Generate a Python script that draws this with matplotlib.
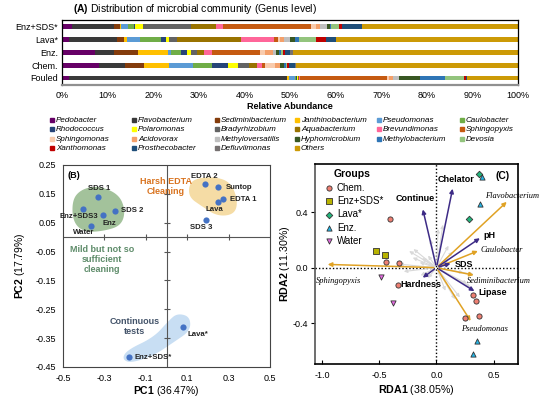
import numpy as np
import matplotlib
matplotlib.use('Agg')
import matplotlib.pyplot as plt
from matplotlib.patches import Polygon
from matplotlib.lines import Line2D

plt.rcParams['font.family'] = ['Liberation Sans', 'DejaVu Sans']
plt.rcParams['mathtext.fontset'] = 'custom'
plt.rcParams['mathtext.bf'] = 'Liberation Sans:bold'
plt.rcParams['mathtext.rm'] = 'Liberation Sans'

# ---------------- (A) genus distribution ----------------
genera = ['Pedobacter', 'Flavobacterium', 'Sediminibacterium', 'Janthinobacterium',
          'Pseudomonas', 'Caulobacter', 'Rhodococcus', 'Polaromonas', 'Bradyrhizobium',
          'Aquabacterium', 'Brevundimonas', 'Sphingopyxis', 'Sphingomonas', 'Acidovorax',
          'Methyloversatilis', 'Hyphomicrobium', 'Methylobacterium', 'Devosia',
          'Xanthomonas', 'Prosthecobacter', 'Defluviimonas', 'Others']
genus_colors = ['#660066', '#3a3a3a', '#843c0c', '#ffc000', '#5b9bd5', '#70ad47',
                '#264478', '#ffff00', '#636363', '#997300', '#ff6699', '#c55a11',
                '#f8cbad', '#f4a06a', '#bfbfbf', '#385723', '#2e75b6', '#93c47d',
                '#c00000', '#1f4e79', '#767171', '#cc9a06']
samples = ['Enz+SDS*', 'Lava*', 'Enz.', 'Chem.', 'Fouled']
enz_sds_star = [2.3, 9.2, 1.2, 0.3, 1.5, 1.3, 0.3, 1.6, 10.5, 5.6, 1.4, 19.3, 1.2, 0.9,
                1.6, 0.6, 0.1, 1.9, 0.5, 4.4, 0.0, 34.3]
lava_star = [1.5, 10.6, 1.5, 0.6, 2.9, 4.6, 1.0, 0.8, 1.7, 14.1, 7.2, 0.9, 0.4, 0.9,
             1.3, 1.1, 0.9, 3.7, 2.3, 2.1, 0.0, 39.9]
enz = [7.2, 4.3, 5.2, 6.5, 0.7, 2.3, 1.3, 0.7, 1.3, 1.6, 1.7, 10.6, 1.1, 1.7,
       0.7, 0.6, 0.5, 0.4, 0.5, 1.1, 0.7, 49.3]
chem = [8.1, 5.7, 4.2, 5.5, 5.2, 4.3, 3.3, 2.2, 2.5, 1.7, 1.1, 0.7, 2.2, 1.0,
        0.2, 0.8, 0.4, 0.3, 0.4, 1.4, 0.2, 48.6]
fouled = [1.5, 47.8, 0.0, 0.5, 1.2, 0.3, 0.2, 0.2, 0.1, 0.1, 0.3, 19.0, 0.6, 0.7,
          1.3, 4.7, 5.5, 4.2, 0.5, 0.1, 0.1, 11.1]

# ---------------- (B) PCA ----------------
pca_labels = ['SDS 1', 'Enz+SDS3', 'Enz', 'SDS 2', 'Water', 'EDTA 2', 'Suntop',
              'EDTA 1', 'Lava', 'SDS 3', 'Lava*', 'Enz+SDS*']
pc1 = [-0.33, -0.405, -0.306, -0.25, -0.363, 0.187, 0.247, 0.271, 0.25, 0.192, 0.082, -0.179]
pc2 = [0.139, 0.096, 0.075, 0.091, 0.037, 0.183, 0.173, 0.132, 0.121, 0.061, -0.31, -0.414]

# ---------------- (C) RDA ----------------
chem_x = [-0.41, -0.44, -0.33, -0.338, 0.318, 0.35, 0.373, 0.248]
chem_y = [0.35, 0.039, 0.034, -0.125, -0.2, -0.24, -0.352, -0.366]
enzsds_x = [-0.528, -0.449]
enzsds_y = [0.118, 0.092]
lava_x = [0.37, 0.283]
lava_y = [0.68, 0.352]
enzg_x = [0.397, 0.382, 0.359, 0.318]
enzg_y = [0.658, 0.46, -0.528, -0.627]
water_x = [-0.49, -0.379]
water_y = [-0.07, -0.253]

env_names = ['Chelator', 'Continue', 'pH', 'SDS', 'Hardness', 'Lipase']
env_x = [0.146, -0.125, 0.40, 0.146, -0.14, 0.353]
env_y = [0.59, 0.44, 0.224, 0.036, -0.084, -0.18]

sp_names = ['Flavobacterium', 'Caulobacter', 'Sediminibacterium', 'Pseudomonas', 'Sphingopyxis']
sp_x = [0.633, 0.385, 0.35, 0.312, -0.977]
sp_y = [0.489, 0.128, -0.058, -0.402, 0.024]

other_sp_x = [0.06, 0.015, -0.26, -0.22, -0.35, -0.23, -0.16, -0.09, -0.17, 0.29, 0.32,
              0.22, 0.175, 0.35, 0.117, 0.16, 0.26, 0.087, -0.087, -0.058, -0.146, 0.13, -0.31]
other_sp_y = [0.33, 0.30, 0.13, 0.147, 0.027, 0.08, -0.065, -0.09, 0.043, -0.125, -0.15,
              -0.23, -0.245, -0.053, 0.176, 0.128, -0.04, -0.185, 0.104, 0.224, 0.08, 0.08, -0.03]

W, H = 540, 397
fig = plt.figure(figsize=(W / 100, H / 100), dpi=100)


def rect(l, t, r, b):
    return [l / W, 1 - b / H, (r - l) / W, (b - t) / H]


# ======== panel A ========
axA = fig.add_axes(rect(62, 20, 518, 85))
table = np.array([enz_sds_star, lava_star, enz, chem, fouled])
ypos = np.arange(len(samples))
left = np.zeros(len(samples))
for j, g in enumerate(genera):
    axA.barh(ypos, table[:, j], left=left, height=0.37, color=genus_colors[j],
             linewidth=0, label=g)
    left += table[:, j]
axA.set_xlim(0, 100)
axA.set_ylim(4.55, -0.52)
axA.set_yticks(ypos)
axA.set_yticklabels(samples, fontsize=6.5)
axA.set_xticks(np.arange(0, 101, 10))
axA.set_xticklabels([f'{v}%' for v in range(0, 101, 10)], fontsize=6.5)
axA.tick_params(axis='y', length=0, pad=3)
axA.tick_params(axis='x', length=0, pad=4)
axA.set_xlabel('Relative Abundance', fontsize=6.5, fontweight='bold', labelpad=2)
for s in axA.spines.values():
    s.set_linewidth(0.9)
axA.spines['bottom'].set_color('#909090')
axA.spines['bottom'].set_linewidth(1.6)
fig.text(73 / W, 1 - 9 / H, r'$\mathbf{(A)}$ Distribution of microbial community (Genus level)',
         fontsize=7.5, va='center', ha='left')

# legend laid out row by row, six columns
leg_col_x = [51.7, 134, 217, 297, 379, 462]
leg_row_y = [120, 129.3, 139, 148.3]
for i, g in enumerate(genera):
    r, c = divmod(i, 6)
    x, y = leg_col_x[c], leg_row_y[r]
    fig.add_artist(Line2D([x / W], [1 - y / H], marker='s', ls='', markersize=2.6,
                          color=genus_colors[i], transform=fig.transFigure))
    fig.text((x + 4) / W, 1 - y / H, g, fontsize=5.8, style='italic', va='center', ha='left')

# ======== panel B ========
axB = fig.add_axes(rect(63, 165, 270, 367))
axB.set_xlim(-0.5, 0.5)
axB.set_ylim(-0.45, 0.25)


def smooth_blob(pts, n=4):
    p = np.array(pts, dtype=float)
    for _ in range(n):
        q = np.roll(p, -1, axis=0)
        p = np.stack([0.75 * p + 0.25 * q, 0.25 * p + 0.75 * q], axis=1).reshape(-1, 2)
    return p


green_blob = [(-0.335, 0.179), (-0.231, 0.150), (-0.198, 0.092), (-0.219, 0.040),
              (-0.303, 0.021), (-0.397, 0.017), (-0.452, 0.052), (-0.456, 0.127),
              (-0.416, 0.164)]
orange_blob = [(0.132, 0.202), (0.229, 0.210), (0.31, 0.191), (0.345, 0.127),
               (0.329, 0.079), (0.245, 0.072), (0.165, 0.110), (0.113, 0.136),
               (0.106, 0.173)]
blue_blob = [(0.052, -0.264), (0.113, -0.275), (0.116, -0.324), (0.035, -0.364),
             (-0.061, -0.410), (-0.174, -0.437), (-0.215, -0.422), (-0.19, -0.391),
             (-0.061, -0.347), (0.011, -0.289)]
for pts, col in [(green_blob, '#a3c29b'), (orange_blob, '#f5dca5'), (blue_blob, '#c8def3')]:
    axB.add_patch(Polygon(smooth_blob(pts), closed=True, facecolor=col, edgecolor='none', zorder=1))

axB.axhline(0, color='#555555', lw=0.8, zorder=2)
axB.axvline(0, color='#555555', lw=0.8, zorder=2)
bx_ticks = [-0.5, -0.3, -0.1, 0.1, 0.3, 0.5]
by_ticks = [0.25, 0.15, 0.05, -0.05, -0.15, -0.25, -0.35, -0.45]
axB.plot(bx_ticks[1:-1], [0] * 4, ls='', marker='|', color='#555555', ms=4, mew=0.8, zorder=2)
axB.plot([0] * 6, by_ticks[1:-1], ls='', marker='_', color='#555555', ms=4, mew=0.8, zorder=2)
axB.scatter(pc1, pc2, s=20, color='#4472c4', zorder=4, linewidths=0)

offs = {'SDS 1': (0.5, 6.2, 'center'), 'Enz+SDS3': (-3, -5, 'center'), 'Enz': (4.8, -6, 'center'),
        'SDS 2': (4.5, 0, 'left'), 'Water': (-5.5, -4.3, 'center'), 'EDTA 2': (-0.5, 6, 'center'),
        'Suntop': (5.8, 0, 'left'), 'EDTA 1': (5, -0.5, 'left'), 'Lava': (-3, -5, 'center'),
        'SDS 3': (-3.6, -5.5, 'center'), 'Lava*': (3.1, -5.8, 'left'), 'Enz+SDS*': (3.6, -0.5, 'left')}
for lab, x, y in zip(pca_labels, pc1, pc2):
    dx, dy, ha = offs[lab]
    axB.annotate(lab, (x, y), xytext=(dx, dy), textcoords='offset points', ha=ha,
                 va='center', fontsize=5.6, fontweight='bold', color='#222222', zorder=5)

axB.text(-0.004, 0.175, 'Harsh EDTA\nCleaning', ha='center', va='center', fontsize=6.5,
         fontweight='bold', color='#d9731f', linespacing=1.15)
axB.text(-0.313, -0.076, 'Mild but not so\nsufficient\ncleaning', ha='center', va='center',
         fontsize=6.5, fontweight='bold', color='#5e8c6a', linespacing=1.15)
axB.text(-0.155, -0.31, 'Continuous\ntests', ha='center', va='center', fontsize=6.5,
         fontweight='bold', color='#44546a', linespacing=1.15)
axB.text(-0.447, 0.212, '(B)', fontsize=6.5, fontweight='bold', va='center', ha='center')

axB.set_xticks(bx_ticks)
axB.set_yticks(by_ticks)
axB.set_xticklabels(['-0.5', '-0.3', '-0.1', '0.1', '0.3', '0.5'], fontsize=6.5)
axB.set_yticklabels(['0.25', '0.15', '0.05', '-0.05', '-0.15', '-0.25', '-0.35', '-0.45'], fontsize=6.5)
axB.tick_params(length=0, pad=5)
for s in axB.spines.values():
    s.set_color('#444444')
    s.set_linewidth(0.8)
axB.set_xlabel(r'$\mathbf{PC1}$ (36.47%)', fontsize=7.5, labelpad=1)
axB.set_ylabel(r'$\mathbf{PC2}$ (17.79%)', fontsize=7.5, labelpad=6)

# ======== panel C ========
axC = fig.add_axes(rect(315, 164, 518, 364))
axC.set_xlim(-1.064, 0.714)
axC.set_ylim(-0.696, 0.749)
axC.axhline(0, color='black', lw=1, ls=(0, (1, 1.5)), zorder=1)
axC.axvline(0, color='black', lw=1, ls=(0, (1, 1.5)), zorder=1)

for x, y in zip(other_sp_x, other_sp_y):
    axC.annotate('', xy=(x, y), xytext=(0, 0),
                 arrowprops=dict(arrowstyle='-|>', color='#d9d9d9', lw=0.8, mutation_scale=5),
                 zorder=2)
for x, y in zip(sp_x, sp_y):
    axC.annotate('', xy=(x, y), xytext=(0, 0),
                 arrowprops=dict(arrowstyle='-|>', color='#e0a224', lw=1.1, mutation_scale=6),
                 zorder=3)
for x, y in zip(env_x, env_y):
    axC.annotate('', xy=(x, y), xytext=(0, 0),
                 arrowprops=dict(arrowstyle='-|>', color='#3d2b86', lw=1.1, mutation_scale=6),
                 zorder=4)

env_pos = {'Chelator': (0.17, 0.64, 'center'), 'Continue': (-0.19, 0.5, 'center'),
           'pH': (0.41, 0.23, 'left'), 'SDS': (0.24, 0.02, 'center'),
           'Hardness': (-0.14, -0.125, 'center'), 'Lipase': (0.37, -0.18, 'left')}
for n in env_names:
    x, y, ha = env_pos[n]
    axC.text(x, y, n, fontsize=6.5, fontweight='bold', ha=ha, va='center', zorder=6)
sp_pos = {'Flavobacterium': (0.66, 0.52, 'center'), 'Caulobacter': (0.57, 0.127, 'center'),
          'Sediminibacterium': (0.55, -0.095, 'center'), 'Pseudomonas': (0.42, -0.44, 'center'),
          'Sphingopyxis': (-0.86, -0.095, 'center')}
for n in sp_names:
    x, y, ha = sp_pos[n]
    axC.text(x, y, n, fontsize=6, style='italic', family='Liberation Serif', ha=ha,
             va='center', zorder=6)

mk = dict(s=14, edgecolors='#333333', linewidths=0.6, zorder=5)
axC.scatter(chem_x, chem_y, marker='o', color='#ee7f72', label='Chem.', **mk)
axC.scatter(enzsds_x, enzsds_y, marker='s', color='#b8b300', label='Enz+SDS*', **mk)
axC.scatter(lava_x, lava_y, marker='D', color='#23b57c', label='Lava*', **dict(mk, s=11))
axC.scatter(enzg_x, enzg_y, marker='^', color='#25b5e6', label='Enz.', **mk)
axC.scatter(water_x, water_y, marker='v', color='#e36ae0', label='Water', **mk)
axC.legend(title='Groups', loc='upper left', bbox_to_anchor=(0.0, 1.005), frameon=False,
           fontsize=7, title_fontproperties={'weight': 'bold', 'size': 7.5},
           handletextpad=0.1, labelspacing=0.34, borderpad=0.15, handlelength=1.5)
axC.text(0.58, 0.66, '(C)', fontsize=7.5, fontweight='bold', va='center', ha='center')

axC.set_xticks([-1.0, -0.5, 0.0, 0.5])
axC.set_yticks([-0.4, 0.0, 0.4])
axC.set_xticklabels(['-1.0', '-0.5', '0.0', '0.5'], fontsize=6.5)
axC.set_yticklabels(['-0.4', '0.0', '0.4'], fontsize=6.5)
axC.tick_params(axis='x', direction='in', length=3, width=0.8, pad=5)
axC.tick_params(axis='y', direction='out', length=3, width=0.8, pad=2)
for s in axC.spines.values():
    s.set_linewidth(1.2)
axC.spines['left'].set_color('#555555')
axC.set_xlabel(r'$\mathbf{RDA1}$ (38.05%)', fontsize=7.7, labelpad=2)
axC.set_ylabel(r'$\mathbf{RDA2}$ (11.30%)', fontsize=7.7, labelpad=0.5)

fig.savefig('out.png', dpi=100)
